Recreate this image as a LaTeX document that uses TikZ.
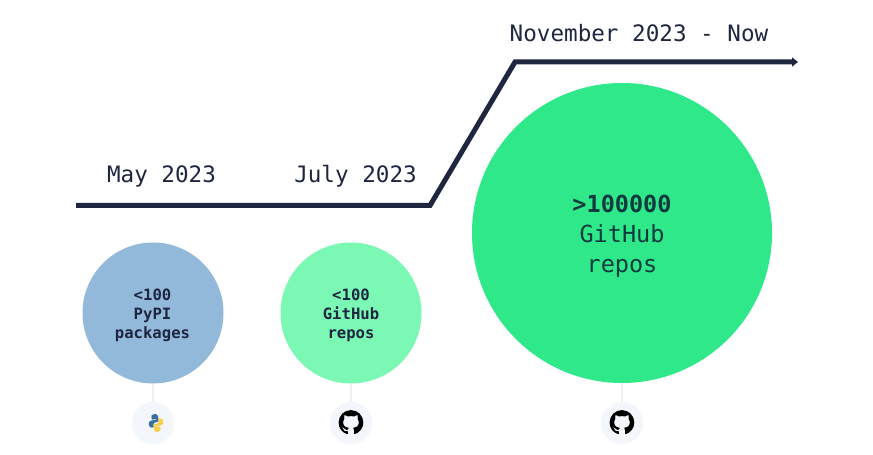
\documentclass[tikz,border=0pt]{standalone}
\usepackage{fontspec}
\setmainfont{DejaVu Sans Mono}
\usetikzlibrary{svg.path,arrows.meta}
\definecolor{navy}{HTML}{1E2640}
\definecolor{inkgreen}{HTML}{103B3E}
\definecolor{bigG}{HTML}{2EE88A}
\definecolor{lightG}{HTML}{7AF8B4}
\definecolor{softB}{HTML}{92B9DA}
\definecolor{iconbg}{HTML}{F3F6FA}
\definecolor{stem}{HTML}{EDF1F5}
\definecolor{pyblue}{HTML}{3D6F9E}
\definecolor{pyyellow}{HTML}{F6D04D}
\tikzset{
  x=1bp,y=-1bp,
  datelabel/.style={font=\fontsize{22.6bp}{27bp}\selectfont,text=navy,inner sep=0pt,anchor=base},
  blob/.style={circle,inner sep=0pt},
  smallblob/.style={blob,minimum size=141bp},
  bigblob/.style={blob,minimum size=300bp,fill=bigG},
  smalltext/.style={inner sep=0pt,align=center,text=navy,font=\fontsize{15.6bp}{19bp}\selectfont\bfseries},
  bigtext/.style={inner sep=0pt,align=center,text=inkgreen,font=\fontsize{23.5bp}{30bp}\selectfont},
  iconback/.style={circle,fill=iconbg,minimum size=42bp,inner sep=0pt},
  stemline/.style={stem,line width=1.2bp},
  timeline/.style={navy,line width=5bp,line join=miter,-{Triangle[length=6bp,width=9bp]}}
}
\newcommand{\ghmark}[1]{%
  \begin{scope}[shift={(#1)},xscale=1.55,yscale=1.55,shift={(-8bp,8bp)},yscale=-1]
    \fill[black] svg "M8 0C3.58 0 0 3.58 0 8c0 3.54 2.29 6.53 5.47 7.59.4.07.55-.17.55-.38 0-.19-.01-.82-.01-1.49-2.01.37-2.53-.49-2.69-.94-.09-.23-.48-.94-.82-1.13-.28-.15-.68-.52-.01-.53.63-.01 1.08.58 1.23.82.72 1.21 1.87.87 2.33.66.07-.52.28-.87.51-1.07-1.78-.2-3.64-.89-3.64-3.95 0-.87.31-1.59.82-2.15-.08-.2-.36-1.02.08-2.12 0 0 .67-.21 2.2.82.64-.18 1.32-.27 2-.27.68 0 1.36.09 2 .27 1.53-1.04 2.2-.82 2.2-.82.44 1.1.16 1.92.08 2.12.51.56.82 1.27.82 2.15 0 3.07-1.87 3.75-3.65 3.95.29.25.54.73.54 1.48 0 1.07-.01 1.93-.01 2.2 0 .21.15.46.55.38C13.71 14.53 16 11.54 16 8c0-4.42-3.58-8-8-8z";
  \end{scope}}
\begin{document}
\begin{tikzpicture}
\useasboundingbox (0,0) rectangle (873,455);
\fill[white] (0,0) rectangle (873,455);
% timeline
\coordinate (t0) at (76,205.5);
\coordinate (t1) at (430,205.5);
\coordinate (t2) at (515,62);
\coordinate (t3) at (798,62);
\draw[timeline] (t0) -- (t1) -- (t2) -- (t3);
% dates
\node[datelabel] (d1) at (161.5,183) {May 2023};
\node[datelabel] (d2) at (355.5,183) {July 2023};
\node[datelabel] (d3) at (639,42) {November 2023 - Now};
% icon backgrounds
\node[iconback] (i1) at (153,423) {};
\node[iconback] (i2) at (351,423) {};
\node[iconback] (i3) at (622,423) {};
% circles
\node[smallblob,fill=softB] (c1) at (153,313) {};
\node[smallblob,fill=lightG] (c2) at (351,313) {};
\node[bigblob] (c3) at (622,233) {};
\node[smalltext] (l1) at (152.5,315) {<100\\PyPI\\packages};
\node[smalltext] (l2) at (351,315) {<100\\GitHub\\repos};
\node[bigtext] (l3) at (622,236) {\textbf{>100000}\\GitHub\\repos};
% stems
\draw[stemline] (c1.south) -- (i1.north);
\draw[stemline] (c2.south) -- (i2.north);
\draw[stemline] (c3.south) -- (i3.north);
% icons
\ghmark{351,422.5}
\ghmark{622,422.5}
\begin{scope}[shift={(156,423)},rotate=12,scale=0.82]
  \fill[pyblue] (0,-11) .. controls (-3,-11) and (-4,-10) .. (-4,-8) -- (-4,-5) -- (1,-5) -- (1,-4) -- (-6,-4) .. controls (-8,-4) and (-9,-2) .. (-9,0) .. controls (-9,3) and (-8,4.5) .. (-6,4.5) -- (-3.5,4.5) -- (-3.5,1.5) .. controls (-3.5,0) and (-2,-1) .. (-0.5,-1) -- (2,-1) .. controls (3.5,-1) and (4,-2) .. (4,-3.5) -- (4,-8) .. controls (4,-10) and (2.5,-11) .. (0,-11) -- cycle;
  \fill[pyyellow] (0,11) .. controls (3,11) and (4,10) .. (4,8) -- (4,5) -- (-1,5) -- (-1,4) -- (6,4) .. controls (8,4) and (9,2) .. (9,0) .. controls (9,-3) and (8,-4.5) .. (6,-4.5) -- (3.5,-4.5) -- (3.5,-1.5) .. controls (3.5,0) and (2,1) .. (0.5,1) -- (-2,1) .. controls (-3.5,1) and (-4,2) .. (-4,3.5) -- (-4,8) .. controls (-4,10) and (-2.5,11) .. (0,11) -- cycle;
\end{scope}
\end{tikzpicture}
\end{document}
